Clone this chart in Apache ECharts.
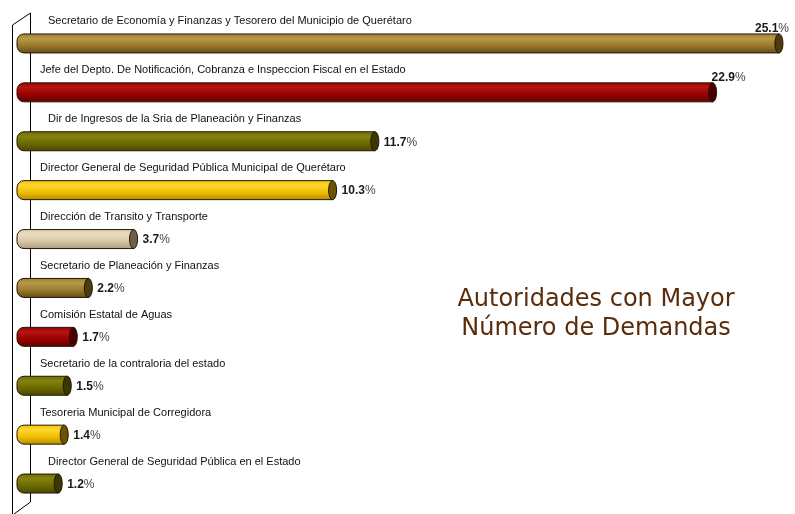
<!DOCTYPE html>
<html><head><meta charset="utf-8">
<script src="https://cdn.jsdelivr.net/npm/echarts@6/dist/echarts.min.js"></script>
<style>html,body{margin:0;padding:0;background:#fff}#c{width:795px;height:514px}</style>
</head><body><div id="c"></div>
<script>
const categories = [
  'Secretario de Economía y Finanzas y Tesorero del Municipio de Querétaro',
  'Jefe del Depto. De Notificación, Cobranza e Inspeccion Fiscal en el Estado',
  'Dir de Ingresos de la Sria de Planeaciòn y Finanzas',
  'Director General de Seguridad Pública Municipal de Querétaro',
  'Dirección de Transito y Transporte',
  'Secretario de Planeación y Finanzas',
  'Comisión Estatal de Aguas',
  'Secretario de la contraloria del estado',
  'Tesoreria Municipal de Corregidora',
  'Director General de Seguridad Pública en el Estado'
];
const values = [25.1, 22.9, 11.7, 10.3, 3.7, 2.2, 1.7, 1.5, 1.4, 1.2];
const titleLines = ['Autoridades con Mayor', 'Número de Demandas'];

// styling constants
const palette = {
  gold:   {light:'#b99a4a', base:'#9a7a2c', dark:'#634a14', cap:'#4f3b10'},
  red:    {light:'#b81414', base:'#990000', dark:'#620000', cap:'#4a0000'},
  olive:  {light:'#848210', base:'#6c6a00', dark:'#484600', cap:'#3a3800'},
  yellow: {light:'#ffd630', base:'#f0c000', dark:'#b48a00', cap:'#6a5400'},
  beige:  {light:'#e8dcc4', base:'#d8c8a6', dark:'#ac9a7a', cap:'#6e604a'}
};
const barColorKeys = ['gold','red','olive','yellow','beige','gold','red','olive','yellow','olive'];
const labelIndent = [8,0,8,0,0,0,0,0,0,8];

const chart = echarts.init(document.getElementById('c'), null, {renderer:'canvas'});

function renderItem(params, api) {
  const v = api.value(0), i = api.value(1);
  const end = api.coord([v, i]);
  const zero = api.coord([0, i]);
  const cy = end[1], xe = end[0];
  const h = 19;
  const x0 = zero[0] - 9;
  const c = palette[barColorKeys[i]];
  const grad = new echarts.graphic.LinearGradient(0, 0, 0, 1, [
    {offset: 0, color: c.base},
    {offset: 0.25, color: c.light},
    {offset: 0.6, color: c.base},
    {offset: 1, color: c.dark}
  ]);
  let lx, ly;
  if (v > 20) {
    lx = Math.min(xe - 5, 755); ly = cy - 15;
  } else {
    lx = xe + 5; ly = cy + 1;
  }
  return {
    type: 'group',
    children: [
      {type:'rect', shape:{x:x0, y:cy - h/2, width: xe - 4 - x0, height: h, r:[7,0,0,7]},
       style:{fill: grad, stroke:'#241806', lineWidth:1}},
      {type:'ellipse', shape:{cx: xe - 4, cy: cy, rx: 4, ry: h/2},
       style:{fill: c.cap, stroke:'#1e1404', lineWidth:1}},
      {type:'text', x: zero[0] + 14 + labelIndent[i], y: cy - 22,
       style:{text: categories[i], font:'11px "Liberation Sans", Arial, sans-serif', fill:'#111',
              textAlign:'left', textVerticalAlign:'middle'}},
      {type:'text', x: lx, y: ly,
       style:{text: '{b|' + v.toFixed(1) + '}{p|%}', textAlign: 'left', textVerticalAlign:'middle',
              rich:{
                b:{font:'bold 12px "Liberation Sans", Arial, sans-serif', fill:'#1a1a1a'},
                p:{font:'12px "Liberation Sans", Arial, sans-serif', fill:'#444'}
              }}}
    ]
  };
}

chart.setOption({
  animation: false,
  backgroundColor: '#fff',
  grid: {left: 26, right: 0, top: 19, bottom: 6},
  xAxis: {type:'value', min:0, max:25.5, show:false},
  yAxis: {type:'category', data: categories, inverse:true, show:false},
  graphic: [
    {type:'polyline', z:0, shape:{points:[[12.5,514],[12.5,25],[30.5,13],[30.5,502],[14,514]]},
     style:{fill:null, stroke:'#000', lineWidth:1}},
    {type:'text', z:5, x:596, y:300, style:{text:titleLines[0], font:'24px "DejaVu Sans", sans-serif', fill:'#5a2c0a', textAlign:'center', textVerticalAlign:'middle'}},
    {type:'text', z:5, x:596, y:329, style:{text:titleLines[1], font:'24px "DejaVu Sans", sans-serif', fill:'#5a2c0a', textAlign:'center', textVerticalAlign:'middle'}}
  ],
  series: [{
    type:'custom',
    z: 3,
    clip: false,
    renderItem: renderItem,
    encode: {x:0, y:1},
    data: values.map((v, i) => [v, i])
  }]
});
</script></body></html>
